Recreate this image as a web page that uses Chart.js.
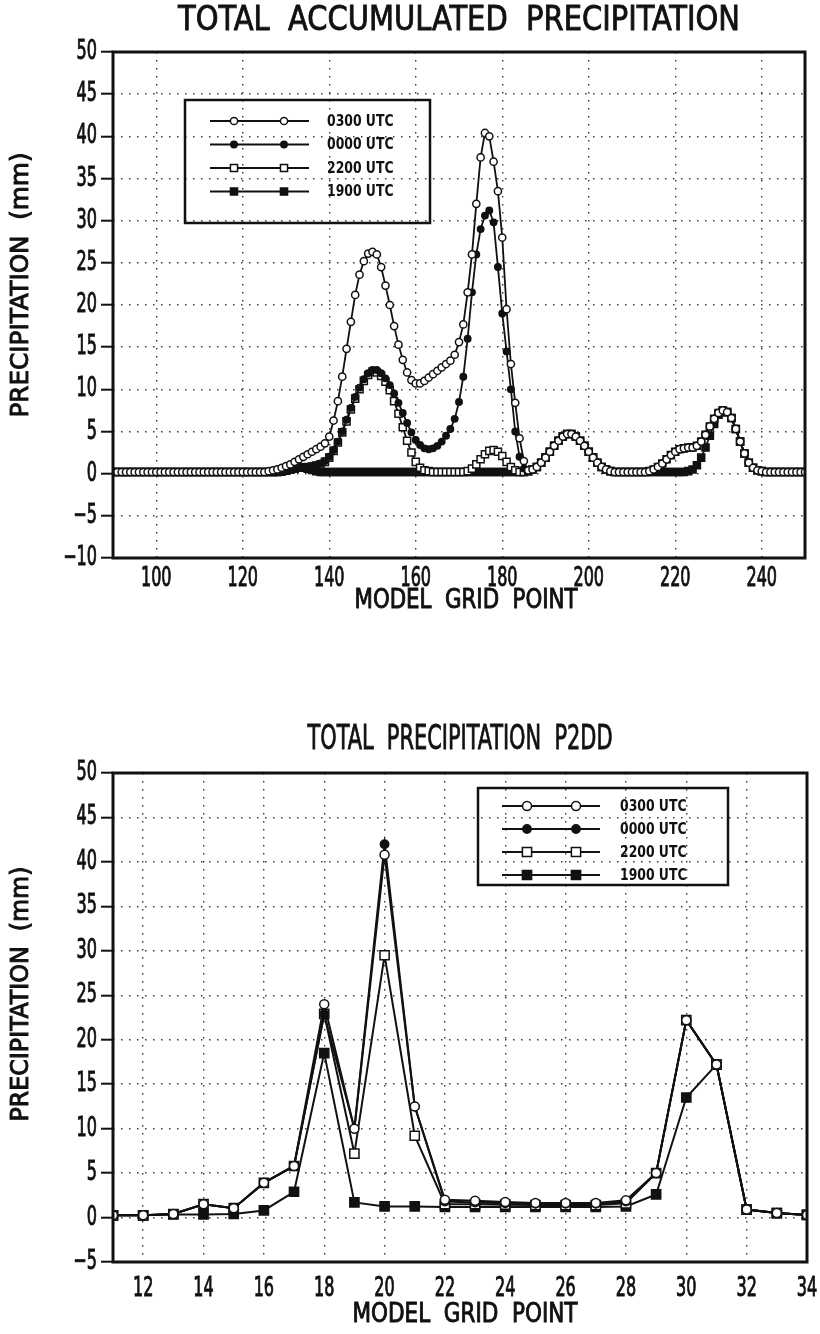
<!DOCTYPE html>
<html>
<head>
<meta charset="utf-8">
<script src="https://cdn.jsdelivr.net/npm/chart.js@4.4.0/dist/chart.umd.min.js"></script>
<style>
  html, body { margin: 0; padding: 0; background: #fff; }
  .panel { position: absolute; left: 0; width: 820px; }
  #topPanel { top: 0; height: 620px; }
  #bottomPanel { top: 620px; height: 714px; }
</style>
</head>
<body>
<div class="panel" id="topPanel"><canvas id="accumChart"></canvas></div>
<div class="panel" id="bottomPanel"><canvas id="p2ddChart"></canvas></div>
<script>
// Series labels (same four times in both panels)
const seriesLabels = ['0300 UTC', '0000 UTC', '2200 UTC', '1900 UTC'];

// Top panel: model grid points 90..250
const gridPointsTop = [
    90, 91, 92, 93, 94, 95, 96, 97, 98, 99,
    100, 101, 102, 103, 104, 105, 106, 107, 108, 109,
    110, 111, 112, 113, 114, 115, 116, 117, 118, 119,
    120, 121, 122, 123, 124, 125, 126, 127, 128, 129,
    130, 131, 132, 133, 134, 135, 136, 137, 138, 139,
    140, 141, 142, 143, 144, 145, 146, 147, 148, 149,
    150, 151, 152, 153, 154, 155, 156, 157, 158, 159,
    160, 161, 162, 163, 164, 165, 166, 167, 168, 169,
    170, 171, 172, 173, 174, 175, 176, 177, 178, 179,
    180, 181, 182, 183, 184, 185, 186, 187, 188, 189,
    190, 191, 192, 193, 194, 195, 196, 197, 198, 199,
    200, 201, 202, 203, 204, 205, 206, 207, 208, 209,
    210, 211, 212, 213, 214, 215, 216, 217, 218, 219,
    220, 221, 222, 223, 224, 225, 226, 227, 228, 229,
    230, 231, 232, 233, 234, 235, 236, 237, 238, 239,
    240, 241, 242, 243, 244, 245, 246, 247, 248, 249,
    250
];

const accum0300 = [
    0.2, 0.2, 0.2, 0.2, 0.2, 0.2, 0.2, 0.2, 0.2, 0.2,
    0.2, 0.2, 0.2, 0.2, 0.2, 0.2, 0.2, 0.2, 0.2, 0.2,
    0.2, 0.2, 0.2, 0.2, 0.2, 0.2, 0.2, 0.2, 0.2, 0.2,
    0.2, 0.2, 0.2, 0.2, 0.2, 0.2, 0.3, 0.4, 0.5, 0.7,
    0.9, 1.1, 1.4, 1.7, 2.0, 2.3, 2.6, 2.9, 3.2, 3.6,
    4.4, 6.3, 8.6, 11.5, 14.8, 18.0, 21.2, 23.6, 25.2, 26.1,
    26.3, 26.0, 24.5, 22.3, 20.0, 17.5, 15.3, 13.5, 12.0, 11.1,
    10.7, 10.7, 11.0, 11.4, 11.8, 12.2, 12.6, 13.0, 13.4, 14.1,
    15.6, 17.7, 21.5, 26.0, 32.0, 37.5, 40.4, 40.0, 37.0, 33.5,
    28.0, 19.5, 13.0, 8.4, 4.2, 1.5, 0.4, 0.5, 0.8, 1.3,
    1.9, 2.6, 3.3, 3.9, 4.4, 4.7, 4.7, 4.4, 3.9, 3.3,
    2.6, 1.9, 1.3, 0.8, 0.5, 0.3, 0.2, 0.2, 0.2, 0.2,
    0.2, 0.2, 0.2, 0.2, 0.3, 0.5, 0.8, 1.2, 1.7, 2.2,
    2.6, 2.9, 3.0, 3.1, 3.1, 3.3, 3.8, 4.6, 5.6, 6.5,
    7.2, 7.5, 7.3, 6.6, 5.3, 3.8, 2.4, 1.3, 0.7, 0.4,
    0.3, 0.2, 0.2, 0.2, 0.2, 0.2, 0.2, 0.2, 0.2, 0.2,
    0.2
];

const accum0000 = [
    0.2, 0.2, 0.2, 0.2, 0.2, 0.2, 0.2, 0.2, 0.2, 0.2,
    0.2, 0.2, 0.2, 0.2, 0.2, 0.2, 0.2, 0.2, 0.2, 0.2,
    0.2, 0.2, 0.2, 0.2, 0.2, 0.2, 0.2, 0.2, 0.2, 0.2,
    0.2, 0.2, 0.2, 0.2, 0.2, 0.2, 0.2, 0.2, 0.2, 0.25,
    0.35, 0.5, 0.6, 0.7, 0.75, 0.8, 0.9, 1.0, 1.2, 1.5,
    2.0, 2.8, 3.8, 5.0, 6.4, 7.8, 9.1, 10.2, 11.2, 11.9,
    12.3, 12.3, 11.9, 11.3, 10.5, 9.5, 8.4, 7.2, 6.0, 4.9,
    4.0, 3.4, 3.0, 2.9, 3.0, 3.3, 3.8, 4.5, 5.3, 6.5,
    8.5, 11.5, 16.0, 21.5, 26.0, 29.0, 30.6, 31.2, 29.8, 24.5,
    19.0, 14.5, 10.0, 5.0, 2.0, 0.6, 0.3, 0.5, 0.8, 1.3,
    1.9, 2.6, 3.3, 3.9, 4.4, 4.7, 4.7, 4.4, 3.9, 3.3,
    2.6, 1.9, 1.3, 0.8, 0.5, 0.3, 0.2, 0.2, 0.2, 0.2,
    0.2, 0.2, 0.2, 0.2, 0.3, 0.5, 0.8, 1.2, 1.7, 2.2,
    2.6, 2.9, 3.0, 3.1, 3.1, 3.3, 3.8, 4.6, 5.6, 6.5,
    7.2, 7.5, 7.3, 6.6, 5.3, 3.8, 2.4, 1.3, 0.7, 0.4,
    0.3, 0.2, 0.2, 0.2, 0.2, 0.2, 0.2, 0.2, 0.2, 0.2,
    0.2
];

const accum2200 = [
    0.2, 0.2, 0.2, 0.2, 0.2, 0.2, 0.2, 0.2, 0.2, 0.2,
    0.2, 0.2, 0.2, 0.2, 0.2, 0.2, 0.2, 0.2, 0.2, 0.2,
    0.2, 0.2, 0.2, 0.2, 0.2, 0.2, 0.2, 0.2, 0.2, 0.2,
    0.2, 0.2, 0.2, 0.2, 0.2, 0.2, 0.2, 0.2, 0.2, 0.25,
    0.35, 0.5, 0.6, 0.7, 0.75, 0.8, 0.85, 0.95, 1.1, 1.4,
    1.9, 2.7, 3.7, 4.9, 6.2, 7.6, 8.9, 10.0, 11.0, 11.7,
    12.1, 12.0, 11.6, 10.9, 9.9, 8.6, 7.1, 5.5, 3.9, 2.5,
    1.4, 0.7, 0.4, 0.3, 0.2, 0.2, 0.2, 0.2, 0.2, 0.2,
    0.2, 0.2, 0.3, 0.6, 1.1, 1.7, 2.3, 2.7, 2.8, 2.6,
    2.1, 1.4, 0.8, 0.4, 0.2, 0.2, 0.3, 0.5, 0.8, 1.3,
    1.9, 2.6, 3.3, 3.9, 4.4, 4.7, 4.7, 4.4, 3.9, 3.3,
    2.6, 1.9, 1.3, 0.8, 0.5, 0.3, 0.2, 0.2, 0.2, 0.2,
    0.2, 0.2, 0.2, 0.2, 0.3, 0.5, 0.8, 1.2, 1.7, 2.2,
    2.6, 2.9, 3.0, 3.1, 3.1, 3.3, 3.8, 4.6, 5.6, 6.5,
    7.2, 7.5, 7.3, 6.6, 5.3, 3.8, 2.4, 1.3, 0.7, 0.4,
    0.3, 0.2, 0.2, 0.2, 0.2, 0.2, 0.2, 0.2, 0.2, 0.2,
    0.2
];

const accum1900 = [
    0.2, 0.2, 0.2, 0.2, 0.2, 0.2, 0.2, 0.2, 0.2, 0.2,
    0.2, 0.2, 0.2, 0.2, 0.2, 0.2, 0.2, 0.2, 0.2, 0.2,
    0.2, 0.2, 0.2, 0.2, 0.2, 0.2, 0.2, 0.2, 0.2, 0.2,
    0.2, 0.2, 0.2, 0.2, 0.2, 0.2, 0.2, 0.2, 0.2, 0.25,
    0.35, 0.5, 0.6, 0.7, 0.7, 0.6, 0.45, 0.3, 0.2, 0.2,
    0.2, 0.2, 0.2, 0.2, 0.2, 0.2, 0.2, 0.2, 0.2, 0.2,
    0.2, 0.2, 0.2, 0.2, 0.2, 0.2, 0.2, 0.2, 0.2, 0.2,
    0.2, 0.2, 0.2, 0.2, 0.2, 0.2, 0.2, 0.2, 0.2, 0.2,
    0.2, 0.2, 0.2, 0.2, 0.2, 0.2, 0.2, 0.2, 0.2, 0.2,
    0.2, 0.2, 0.2, 0.2, 0.2, 0.2, 0.3, 0.5, 0.8, 1.3,
    1.9, 2.6, 3.3, 3.9, 4.4, 4.7, 4.7, 4.4, 3.9, 3.3,
    2.6, 1.9, 1.3, 0.8, 0.5, 0.3, 0.2, 0.2, 0.2, 0.2,
    0.2, 0.2, 0.2, 0.2, 0.2, 0.2, 0.2, 0.2, 0.2, 0.2,
    0.2, 0.2, 0.2, 0.3, 0.5, 1.0, 1.9, 3.1, 4.5, 5.9,
    7.0, 7.5, 7.3, 6.6, 5.3, 3.8, 2.4, 1.3, 0.7, 0.4,
    0.3, 0.2, 0.2, 0.2, 0.2, 0.2, 0.2, 0.2, 0.2, 0.2,
    0.2
];

const xTicksTop = [100, 120, 140, 160, 180, 200, 220, 240];
const yTicksTop = [-10, -5, 0, 5, 10, 15, 20, 25, 30, 35, 40, 45, 50];

// Bottom panel: P2DD grid points 11..34
const gridPointsBottom = [11, 12, 13, 14, 15, 16, 17, 18, 19, 20, 21, 22,
                          23, 24, 25, 26, 27, 28, 29, 30, 31, 32, 33, 34];

const p2dd0300 = [0.25, 0.25, 0.4, 1.5, 1.05, 3.9, 5.8, 24.0, 10.0, 40.8, 12.5, 2.0,
                  1.9, 1.75, 1.65, 1.65, 1.65, 1.95, 5.0, 22.2, 17.2, 0.9, 0.5, 0.3];
const p2dd0000 = [0.25, 0.25, 0.4, 1.5, 1.05, 3.9, 5.8, 22.9, 10.0, 42.0, 12.5, 1.8,
                  1.7, 1.6, 1.55, 1.55, 1.55, 1.8, 5.0, 22.2, 17.2, 0.9, 0.5, 0.3];
const p2dd2200 = [0.25, 0.25, 0.4, 1.5, 1.05, 3.9, 5.8, 22.9, 7.2, 29.5, 9.2, 1.5,
                  1.5, 1.45, 1.4, 1.4, 1.4, 1.6, 5.0, 22.2, 17.2, 0.9, 0.5, 0.3];
const p2dd1900 = [0.25, 0.25, 0.35, 0.35, 0.4, 0.8, 2.9, 18.5, 1.7, 1.25, 1.25, 1.2,
                  1.2, 1.2, 1.2, 1.2, 1.2, 1.25, 2.6, 13.5, 17.2, 0.9, 0.5, 0.3];

const xTicksBottom = [12, 14, 16, 18, 20, 22, 24, 26, 28, 30, 32, 34];
const yTicksBottom = [-5, 0, 5, 10, 15, 20, 25, 30, 35, 40, 45, 50];

// Styling
const FONT = "'DejaVu Sans Condensed', 'Liberation Sans Narrow', 'Arial Narrow', 'Liberation Sans', sans-serif";
const INK = '#111';
const markerKinds = [
    { shape: 'circle', filled: false },
    { shape: 'circle', filled: true },
    { shape: 'rect', filled: false },
    { shape: 'rect', filled: true }
];

function buildDatasets(xs, seriesList, sizes) {
    return seriesList.map((vals, i) => {
        const kind = markerKinds[i];
        return {
            label: seriesLabels[i],
            data: xs.map((x, k) => ({ x: x, y: vals[k] })),
            borderColor: INK,
            borderWidth: sizes.line,
            tension: 0,
            pointStyle: kind.shape,
            pointRadius: kind.shape === 'rect' ? sizes.square : (kind.filled ? sizes.dot : sizes.circle),
            pointBackgroundColor: kind.filled ? INK : '#fff',
            pointBorderColor: INK,
            pointBorderWidth: 1.5
        };
    });
}

// text squeezed horizontally (the original lettering is a narrow face)
function drawSqueezed(ctx, text, x, y, sx, align, rotate, weight) {
    ctx.save();
    ctx.translate(x, y);
    if (rotate) ctx.rotate(-Math.PI / 2);
    ctx.scale(sx, 1);
    ctx.textAlign = align;
    ctx.textBaseline = 'middle';
    ctx.fillText(text, 0, 0);
    if (weight) {
        ctx.lineWidth = weight;
        ctx.strokeStyle = INK;
        ctx.strokeText(text, 0, 0);
    }
    ctx.restore();
}

function drawFitted(ctx, text, x, y, width, rotate, weight) {
    const w = ctx.measureText(text).width;
    drawSqueezed(ctx, text, x, y, width / w, 'center', rotate, weight);
}

function tickText(v) {
    return String(v).replace('-', '\u2212');
}

// Thick frame round the plot area
const framePlugin = {
    id: 'frame',
    afterDatasetsDraw(chart) {
        const { ctx, chartArea: a } = chart;
        ctx.save();
        ctx.lineWidth = 3;
        ctx.strokeStyle = INK;
        ctx.strokeRect(a.left, a.top, a.right - a.left, a.bottom - a.top);
        ctx.restore();
    }
};

// Title, axis titles and tick labels
const lettering = {
    id: 'lettering',
    afterDraw(chart, args, opts) {
        const { ctx, chartArea: a, scales } = chart;
        ctx.save();
        ctx.fillStyle = INK;

        ctx.font = opts.tickFont;
        scales.x.ticks.forEach(t => {
            drawSqueezed(ctx, tickText(t.value), scales.x.getPixelForValue(t.value),
                a.bottom + opts.xLabelGap, opts.tickSqueeze, 'center', false, 0.9);
        });
        scales.y.ticks.forEach(t => {
            drawSqueezed(ctx, tickText(t.value), a.left - opts.yLabelGap,
                scales.y.getPixelForValue(t.value), opts.tickSqueeze, 'right', false, 0.9);
        });

        const h = opts.heading;
        ctx.font = h.font;
        drawFitted(ctx, h.text, h.x, h.y, h.width, false, 0.8);

        const xt = opts.xTitle;
        ctx.font = xt.font;
        drawFitted(ctx, xt.text, xt.x, xt.y, xt.width, false, 0.9);

        const yt = opts.yTitle;
        ctx.font = yt.font;
        drawFitted(ctx, yt.text, yt.x, yt.y, yt.width, true, 0.9);
        ctx.restore();
    }
};

// Boxed legend inside the plot: line with two markers, then label
const boxLegendPlugin = {
    id: 'boxLegend',
    afterDatasetsDraw(chart, args, opts) {
        const ctx = chart.ctx;
        ctx.save();
        ctx.strokeStyle = INK;
        ctx.lineWidth = 2.5;
        ctx.strokeRect(opts.x, opts.y, opts.w, opts.h);
        chart.data.datasets.forEach((ds, i) => {
            const y = opts.rowTop + i * opts.rowGap;
            ctx.strokeStyle = INK;
            ctx.lineWidth = 2;
            ctx.beginPath();
            ctx.moveTo(opts.lineX1, y);
            ctx.lineTo(opts.lineX2, y);
            ctx.stroke();
            opts.marks.forEach(mx => {
                const r = ds.pointRadius;
                ctx.beginPath();
                if (ds.pointStyle === 'rect') {
                    const s = r * Math.SQRT1_2;
                    ctx.rect(mx - s, y - s, 2 * s, 2 * s);
                } else {
                    ctx.arc(mx, y, r, 0, Math.PI * 2);
                }
                ctx.fillStyle = ds.pointBackgroundColor;
                ctx.fill();
                ctx.lineWidth = ds.pointBorderWidth;
                ctx.stroke();
            });
            ctx.fillStyle = INK;
            ctx.font = opts.font;
            drawSqueezed(ctx, ds.label, opts.labelX, y + 1, 0.92, 'left');
        });
        ctx.restore();
    }
};

function makeScales(cfg) {
    const gridStyle = {
        color: '#3a3a3a',
        lineWidth: 1.4
    };
    return {
        x: {
            type: 'linear',
            min: cfg.xMin,
            max: cfg.xMax,
            afterBuildTicks: s => { s.ticks = cfg.xTicks.map(v => ({ value: v })); },
            afterFit: s => { s.height = cfg.xHeight; },
            grid: Object.assign({ drawTicks: false }, gridStyle),
            border: { display: false, dash: [1.5, 6.5] },
            ticks: { display: false }
        },
        y: {
            type: 'linear',
            min: cfg.yMin,
            max: cfg.yMax,
            afterBuildTicks: s => { s.ticks = cfg.yTicks.map(v => ({ value: v })); },
            afterFit: s => { s.width = 113; },
            grid: Object.assign({
                tickLength: 12, tickColor: INK, tickWidth: 2, tickBorderDash: []
            }, gridStyle),
            border: { display: false, dash: [1.5, 6.5] },
            ticks: { display: false }
        }
    };
}

function makeChart(canvasId, cfg) {
    new Chart(document.getElementById(canvasId), {
        type: 'line',
        data: { datasets: buildDatasets(cfg.xs, cfg.series, cfg.sizes) },
        options: {
            responsive: true,
            maintainAspectRatio: false,
            animation: false,
            layout: { padding: cfg.padding },
            scales: makeScales(cfg),
            plugins: {
                legend: { display: false },
                tooltip: { enabled: false },
                lettering: cfg.lettering,
                boxLegend: cfg.legend
            }
        },
        plugins: [framePlugin, lettering, boxLegendPlugin]
    });
}

makeChart('accumChart', {
    xs: gridPointsTop,
    series: [accum0300, accum0000, accum2200, accum1900],
    sizes: { line: 1.8, circle: 3.6, dot: 3.2, square: 5 },
    xMin: 90, xMax: 250, xTicks: xTicksTop,
    yMin: -10, yMax: 50, yTicks: yTicksTop,
    padding: { top: 52, right: 15, left: 0, bottom: 0 },
    xHeight: 62,
    lettering: {
        tickFont: '27px ' + FONT, tickSqueeze: 0.66, xLabelGap: 21, yLabelGap: 16,
        heading: { text: 'TOTAL  ACCUMULATED  PRECIPITATION', x: 459, y: 21, width: 562, font: '33px ' + FONT },
        xTitle: { text: 'MODEL  GRID  POINT', x: 466, y: 601, width: 223, font: '27px ' + FONT },
        yTitle: { text: 'PRECIPITATION  (mm)', x: 22, y: 285, width: 265, font: '24px ' + FONT }
    },
    legend: {
        x: 185, y: 100, w: 245, h: 123,
        lineX1: 210, lineX2: 309, marks: [234, 284], labelX: 327,
        rowTop: 121, rowGap: 23.5, font: 'bold 15px ' + FONT
    }
});

makeChart('p2ddChart', {
    xs: gridPointsBottom,
    series: [p2dd0300, p2dd0000, p2dd2200, p2dd1900],
    sizes: { line: 2, circle: 4.5, dot: 4.2, square: 6.5 },
    xMin: 11, xMax: 34, xTicks: xTicksBottom,
    yMin: -5, yMax: 50, yTicks: yTicksBottom,
    padding: { top: 153, right: 13, left: 0, bottom: 0 },
    xHeight: 72,
    lettering: {
        tickFont: '27px ' + FONT, tickSqueeze: 0.66, xLabelGap: 27, yLabelGap: 16,
        heading: { text: 'TOTAL  PRECIPITATION  P2DD', x: 460, y: 120, width: 305, font: '33px ' + FONT },
        xTitle: { text: 'MODEL  GRID  POINT', x: 465, y: 695, width: 225, font: '27px ' + FONT },
        yTitle: { text: 'PRECIPITATION  (mm)', x: 22, y: 374, width: 255, font: '24px ' + FONT }
    },
    legend: {
        x: 478, y: 168, w: 250, h: 97,
        lineX1: 502, lineX2: 600, marks: [527, 576], labelX: 620,
        rowTop: 186, rowGap: 23, font: 'bold 15px ' + FONT
    }
});
</script>
</body>
</html>
